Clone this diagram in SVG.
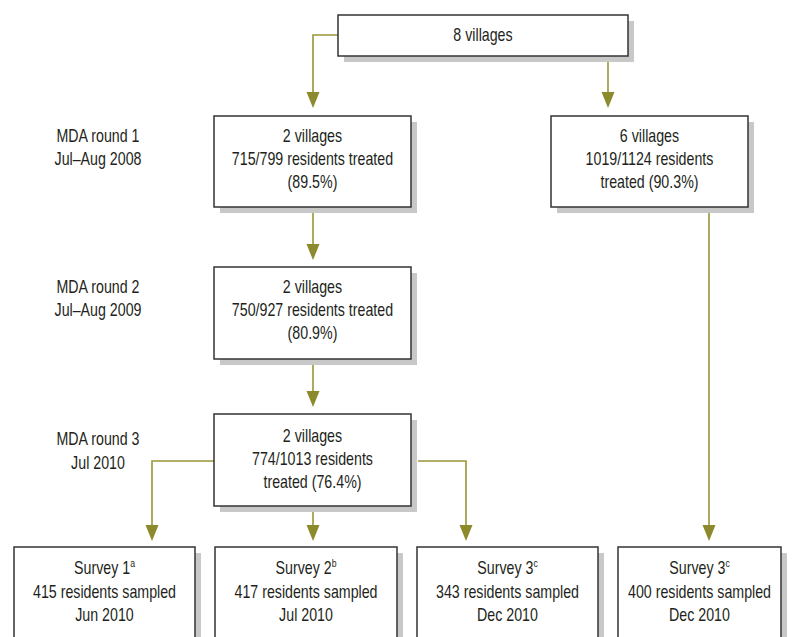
<svg xmlns="http://www.w3.org/2000/svg" width="792" height="637" viewBox="0 0 792 637">
<defs>
<style>
text{font-family:"Liberation Sans",Arial,sans-serif;font-size:18px;fill:#231f20;text-anchor:middle}
.box{fill:#fff;stroke:#333;stroke-width:1.5}
.sh{fill:#c8c8c8}
.con{fill:none;stroke:#9a9535;stroke-width:1.6}
.ah{fill:#8c8a2c}
.sup{font-size:11px}
</style>
</defs>
<rect width="792" height="637" fill="#fff"/>
<g id="connectors">
<path class="con" d="M338,35 H313 V92"/>
<path class="ah" d="M306.5,92 H319.5 L313,108 Z"/>
<path class="con" d="M608,56 V92"/>
<path class="ah" d="M601.5,92 H614.5 L608,108 Z"/>
<path class="con" d="M313,207 V244"/>
<path class="ah" d="M306.5,244 H319.5 L313,260 Z"/>
<path class="con" d="M313,359 V391"/>
<path class="ah" d="M306.5,391 H319.5 L313,407 Z"/>
<path class="con" d="M214,461 H152 V525"/>
<path class="ah" d="M145.5,525 H158.5 L152,541 Z"/>
<path class="con" d="M313,506 V525"/>
<path class="ah" d="M306.5,525 H319.5 L313,541 Z"/>
<path class="con" d="M418,461 H466 V525"/>
<path class="ah" d="M459.5,525 H472.5 L466,541 Z"/>
<path class="con" d="M709,207 V525"/>
<path class="ah" d="M702.5,525 H715.5 L709,541 Z"/>
</g>
<g id="top">
<rect class="sh" x="344" y="21" width="290" height="41"/>
<rect class="box" x="338" y="15" width="290" height="41"/>
<g transform="translate(483,0) scale(0.79,1)"><text x="0" y="41">8 villages</text></g>
</g>
<g id="mda1">
<rect class="sh" x="220" y="122" width="197" height="91"/>
<rect class="box" x="214" y="116" width="197" height="91"/>
<g transform="translate(312.5,0) scale(0.79,1)">
<text x="0" y="142">2 villages</text>
<text x="0" y="165.5">715/799 residents treated</text>
<text x="0" y="188.5">(89.5%)</text>
</g>
</g>
<g id="right1">
<rect class="sh" x="557" y="122" width="197" height="91"/>
<rect class="box" x="551" y="116" width="197" height="91"/>
<g transform="translate(649.5,0) scale(0.79,1)">
<text x="0" y="142">6 villages</text>
<text x="0" y="165.5">1019/1124 residents</text>
<text x="0" y="188.5">treated (90.3%)</text>
</g>
</g>
<g id="mda2">
<rect class="sh" x="220" y="273" width="197" height="92"/>
<rect class="box" x="214" y="267" width="197" height="92"/>
<g transform="translate(312.5,0) scale(0.79,1)">
<text x="0" y="293">2 villages</text>
<text x="0" y="316.5">750/927 residents treated</text>
<text x="0" y="339.5">(80.9%)</text>
</g>
</g>
<g id="mda3">
<rect class="sh" x="220" y="420" width="197" height="92"/>
<rect class="box" x="214" y="414" width="197" height="92"/>
<g transform="translate(312.5,0) scale(0.79,1)">
<text x="0" y="442">2 villages</text>
<text x="0" y="465">774/1013 residents</text>
<text x="0" y="488">treated (76.4%)</text>
</g>
</g>
<g id="labels">
<g transform="translate(98,0) scale(0.79,1)">
<text x="0" y="142">MDA round 1</text>
<text x="0" y="165.5">Jul–Aug 2008</text>
<text x="0" y="293">MDA round 2</text>
<text x="0" y="316.5">Jul–Aug 2009</text>
<text x="0" y="445.5">MDA round 3</text>
<text x="0" y="469">Jul 2010</text>
</g>
</g>
<g id="survey1">
<rect class="sh" x="20" y="553" width="181" height="100"/>
<rect class="box" x="14" y="547" width="181" height="100"/>
<g transform="translate(104.5,0) scale(0.79,1)">
<text x="0" y="574">Survey 1<tspan class="sup" dy="-7">a</tspan></text>
<text x="0" y="598">415 residents sampled</text>
<text x="0" y="621.5">Jun 2010</text>
</g>
</g>
<g id="survey2">
<rect class="sh" x="221" y="553" width="182" height="100"/>
<rect class="box" x="215" y="547" width="182" height="100"/>
<g transform="translate(306,0) scale(0.79,1)">
<text x="0" y="574">Survey 2<tspan class="sup" dy="-7">b</tspan></text>
<text x="0" y="598">417 residents sampled</text>
<text x="0" y="621.5">Jul 2010</text>
</g>
</g>
<g id="survey3a">
<rect class="sh" x="423" y="553" width="181" height="100"/>
<rect class="box" x="417" y="547" width="181" height="100"/>
<g transform="translate(507.5,0) scale(0.79,1)">
<text x="0" y="574">Survey 3<tspan class="sup" dy="-7">c</tspan></text>
<text x="0" y="598">343 residents sampled</text>
<text x="0" y="621.5">Dec 2010</text>
</g>
</g>
<g id="survey3b">
<rect class="sh" x="624" y="553" width="163" height="100"/>
<rect class="box" x="618" y="547" width="163" height="100"/>
<g transform="translate(699.5,0) scale(0.79,1)">
<text x="0" y="574">Survey 3<tspan class="sup" dy="-7">c</tspan></text>
<text x="0" y="598">400 residents sampled</text>
<text x="0" y="621.5">Dec 2010</text>
</g>
</g>
</svg>
